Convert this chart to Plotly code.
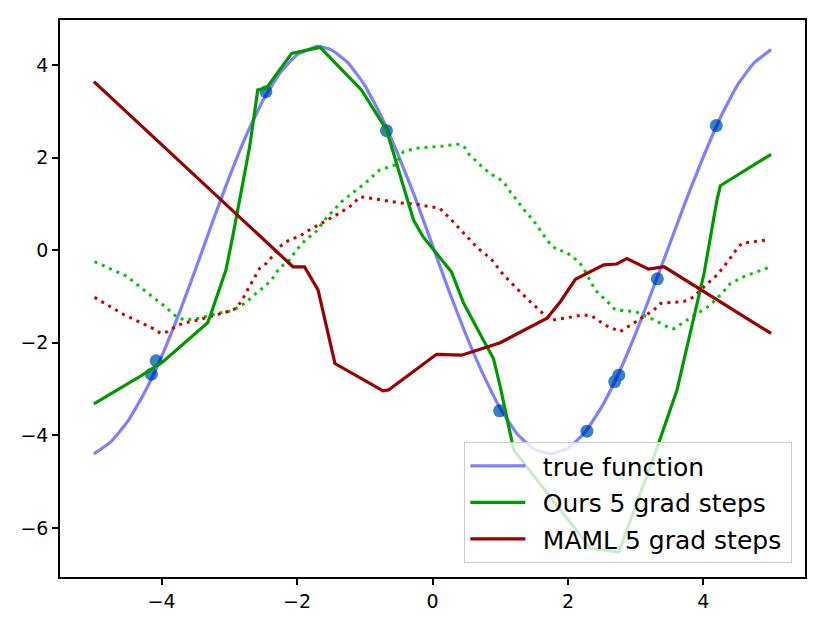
import plotly.graph_objects as go

# ---- data ----
true_x = [-5.0, -4.75, -4.5, -4.25, -4.0, -3.75, -3.5, -3.25, -3.0, -2.75, -2.5, -2.25, -2.0,
          -1.7, -1.5, -1.25, -1.0, -0.75, -0.5, -0.25, 0.0, 0.25, 0.5, 0.75, 1.0, 1.25, 1.5,
          1.75, 2.0, 2.25, 2.5, 2.75, 3.0, 3.25, 3.5, 3.75, 4.0, 4.25, 4.5, 4.75, 5.0]
true_y = [-4.40, -4.14, -3.70, -3.07, -2.30, -1.40, -0.42, 0.60, 1.58, 2.48, 3.24, 3.83, 4.22,
          4.40, 4.33, 4.05, 3.56, 2.87, 2.03, 1.11, 0.10, -0.91, -1.85, -2.69, -3.42, -3.97, -4.30,
          -4.40, -4.28, -3.94, -3.38, -2.66, -1.80, -0.85, 0.12, 1.10, 2.02, 2.86, 3.56, 4.05, 4.33]

pts_x = [-4.15, -4.08, -2.46, -0.68, 0.99, 2.28, 2.69, 2.75, 3.32, 4.19]
pts_y = [-2.68, -2.39, 3.42, 2.58, -3.47, -3.91, -2.84, -2.70, -0.62, 2.69]

ours_x = [-5.0, -4.33, -3.98, -3.32, -3.27, -3.05, -2.95, -2.85, -2.70, -2.58, -2.45, -2.08,
          -1.66, -1.05, -0.68, -0.28, -0.14, 0.28, 0.46, 0.75, 0.90, 1.0, 1.20, 2.33, 2.75,
          3.32, 3.61, 4.01, 4.20, 4.25, 5.0]
ours_y = [-3.32, -2.74, -2.41, -1.57, -1.37, -0.43, 0.29, 1.08, 2.23, 3.46, 3.50, 4.25,
          4.38, 3.46, 2.60, 0.65, 0.29, -0.47, -1.15, -1.94, -2.34, -2.95, -4.32, -6.44, -6.52,
          -4.25, -3.02, -0.50, 1.08, 1.39, 2.07]

maml_x = [-5.0, -2.06, -1.89, -1.69, -1.44, -0.73, -0.65, 0.06, 0.43, 1.0, 1.69, 1.89, 2.11,
          2.53, 2.72, 2.87, 3.19, 3.42, 5.0]
maml_y = [3.64, -0.36, -0.36, -0.86, -2.45, -3.04, -3.02, -2.25, -2.27, -2.0, -1.47, -1.11,
          -0.63, -0.32, -0.30, -0.18, -0.41, -0.36, -1.80]

ours_pre_x = [-4.99, -4.77, -4.52, -4.33, -4.15, -3.95, -3.78, -3.66, -3.44, -3.19, -3.0, -2.90,
              -2.77, -2.67, -2.58, -2.48, -2.38, -2.26, -2.11, -2.01, -1.86, -1.74, -1.57, -1.34,
              -1.0, -0.78, -0.55, -0.43, -0.23, 0.16, 0.40, 0.48, 0.55, 0.64, 0.73, 0.83, 0.92,
              1.02, 1.10, 1.17, 1.25, 1.32, 1.39, 1.48, 1.59, 1.71, 1.84, 1.96, 2.06, 2.16, 2.23,
              2.40, 2.58, 2.70, 3.0, 3.22, 3.46, 3.56, 3.76, 3.91, 4.10, 4.25, 4.40, 4.60, 4.80, 4.99]
ours_pre_y = [-0.25, -0.39, -0.56, -0.78, -0.99, -1.22, -1.44, -1.51, -1.47, -1.37, -1.32, -1.26,
              -1.15, -1.01, -0.90, -0.79, -0.65, -0.39, -0.21, 0.0, 0.25, 0.36, 0.69, 1.05,
              1.44, 1.73, 1.84, 2.13, 2.20, 2.25, 2.29, 2.21, 2.05, 1.93, 1.80, 1.68, 1.59,
              1.51, 1.37, 1.21, 1.08, 0.92, 0.81, 0.66, 0.43, 0.18, 0.0, -0.03, -0.14, -0.25, -0.39,
              -0.86, -1.11, -1.29, -1.33, -1.47, -1.65, -1.70, -1.51, -1.37, -1.19, -0.97, -0.72, -0.57, -0.47, -0.36]

maml_pre_x = [-4.99, -4.77, -4.55, -4.33, -4.13, -4.01, -3.91, -3.81, -3.69, -3.49, -3.37, -3.24,
              -3.12, -3.0, -2.90, -2.81, -2.72, -2.65, -2.55, -2.45, -2.35, -2.26, -2.16, -2.06,
              -1.96, -1.86, -1.71, -1.42, -1.22, -1.07, -0.95, -0.48, -0.23, 0.11, 0.28, 0.46,
              0.67, 0.86, 1.05, 1.39, 1.57, 1.74, 2.23, 2.35, 2.55, 2.77, 3.0, 3.27, 3.37, 3.71,
              3.86, 4.01, 4.20, 4.38, 4.50, 4.57, 4.94]
maml_pre_y = [-1.02, -1.21, -1.40, -1.55, -1.69, -1.80, -1.76, -1.67, -1.58, -1.52, -1.47, -1.42,
              -1.38, -1.32, -1.26, -1.08, -0.83, -0.65, -0.39, -0.28, -0.11, 0.07, 0.18, 0.25,
              0.30, 0.40, 0.52, 0.76, 0.94, 1.15, 1.13, 1.02, 0.99, 0.90, 0.65, 0.36,
              0.04, -0.18, -0.54, -1.04, -1.29, -1.52, -1.40, -1.42, -1.62, -1.76, -1.55, -1.29, -1.15, -1.11,
              -1.01, -0.79, -0.54, -0.21, 0.04, 0.15, 0.22]

x_ticks = [-4, -2, 0, 2, 4]
y_ticks = [-6, -4, -2, 0, 2, 4]
legend_names = ["true function", "Ours 5 grad steps", "MAML 5 grad steps"]

def lab(v):
    return ("\u2212" + str(abs(v))) if v < 0 else str(v)

FONT = "DejaVu Sans"
PRE = "\u2002"
POST = "\u2009"

fig = go.Figure()
fig.add_trace(go.Scatter(x=pts_x, y=pts_y, mode="markers", showlegend=False,
                         marker=dict(color="rgba(31,119,180,0.9)", size=13, line=dict(width=0))))
fig.add_trace(go.Scatter(x=true_x, y=true_y, mode="lines", name=PRE + legend_names[0] + POST, legendgroup="a",
                         line=dict(color="rgba(0,0,255,0.5)", width=3.2, shape="spline", smoothing=0.4)))
fig.add_trace(go.Scatter(x=ours_pre_x, y=ours_pre_y, mode="lines", showlegend=False,
                         line=dict(color="rgb(0,200,0)", width=3, dash="3px,5px")))
fig.add_trace(go.Scatter(x=maml_pre_x, y=maml_pre_y, mode="lines", showlegend=False,
                         line=dict(color="rgb(204,0,0)", width=3, dash="3px,5px")))
fig.add_trace(go.Scatter(x=ours_x, y=ours_y, mode="lines", name=PRE + legend_names[1] + POST, legendgroup="b",
                         line=dict(color="rgb(0,153,0)", width=3.2)))
fig.add_trace(go.Scatter(x=maml_x, y=maml_y, mode="lines", name=PRE + legend_names[2] + POST, legendgroup="c",
                         line=dict(color="rgb(153,0,0)", width=3.2)))

axis_common = dict(showgrid=False, zeroline=False, showline=True, linecolor="black",
                   linewidth=1.5, mirror=True, ticks="outside", ticklen=6, tickwidth=1.5,
                   tickcolor="black", tickfont=dict(family=FONT, size=19, color="black"))

fig.update_layout(
    width=827, height=627,
    margin=dict(l=60, r=22, t=20, b=50),
    plot_bgcolor="white", paper_bgcolor="white",
    xaxis=dict(range=[-5.5, 5.5], tickvals=x_ticks, ticktext=[lab(v) for v in x_ticks], **axis_common),
    yaxis=dict(range=[-7.06, 4.97], tickvals=y_ticks, ticktext=[lab(v) for v in y_ticks], **axis_common),
    legend=dict(x=0.983, y=0.025, xanchor="right", yanchor="bottom",
                bgcolor="rgba(255,255,255,0.8)", bordercolor="#cccccc", borderwidth=1,
                font=dict(family=FONT, size=25, color="black"), itemwidth=55,
                traceorder="grouped", tracegroupgap=1),
    font=dict(family=FONT),
)

fig.write_html("out.html")
